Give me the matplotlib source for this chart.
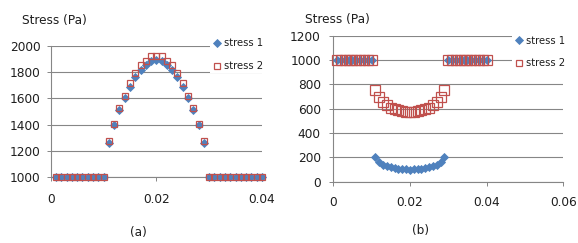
import matplotlib
matplotlib.use("Agg")
import matplotlib.pyplot as plt
from matplotlib.lines import Line2D

plt.rcParams['font.family'] = ['DejaVu Sans']

# ---------------- data ----------------
x_left = [0.001, 0.002, 0.003, 0.004, 0.005, 0.006, 0.007, 0.008, 0.009, 0.010]
x_mid = [0.011, 0.012, 0.013, 0.014, 0.015, 0.016, 0.017, 0.018, 0.019, 0.020,
         0.021, 0.022, 0.023, 0.024, 0.025, 0.026, 0.027, 0.028, 0.029]
x_right = [0.030, 0.031, 0.032, 0.033, 0.034, 0.035, 0.036, 0.037, 0.038, 0.039, 0.040]

flat_left = [1000, 1000, 1000, 1000, 1000, 1000, 1000, 1000, 1000, 1000]
flat_right = [1000, 1000, 1000, 1000, 1000, 1000, 1000, 1000, 1000, 1000, 1000]

# panel (a)
a_stress1_mid = [1262, 1395, 1508, 1605, 1688, 1760, 1815, 1855, 1880, 1890,
                 1880, 1855, 1815, 1760, 1688, 1605, 1508, 1395, 1262]
a_stress2_mid = [1277, 1405, 1528, 1620, 1716, 1792, 1852, 1885, 1922, 1922,
                 1922, 1885, 1852, 1792, 1716, 1620, 1528, 1405, 1277]

# panel (b)
b_stress1_mid = [205, 160, 140, 128, 118, 111, 106, 103, 101, 100,
                 101, 103, 106, 111, 118, 128, 140, 160, 205]
b_stress2_mid = [755, 695, 657, 627, 607, 595, 587, 580, 576, 573,
                 576, 580, 587, 595, 607, 627, 657, 695, 755]

series_names = ["stress 1", "stress 2"]
y_title = "Stress (Pa)"
a_yticks = [1000, 1200, 1400, 1600, 1800, 2000]
a_xticks = [0, 0.02, 0.04]
a_xticklabels = ["0", "0.02", "0.04"]
b_yticks = [0, 200, 400, 600, 800, 1000, 1200]
b_xticks = [0, 0.02, 0.04, 0.06]
b_xticklabels = ["0", "0.02", "0.04", "0.06"]

# ---------------- style ----------------
BLUE = "#4F81BD"
RED = "#C0504D"
GRID = "#868686"
TXT = "#1e1e1e"
W, H = 578, 243

fig = plt.figure(figsize=(W / 100, H / 100), dpi=100)
fig.patch.set_facecolor("white")


def fx(px):
    return px / W


def fy(py):
    return 1 - py / H


def style_axes(ax, ypad, xpad):
    ax.set_facecolor("white")
    for s in ["top", "right"]:
        ax.spines[s].set_visible(False)
    for s in ["left", "bottom"]:
        ax.spines[s].set_color(GRID)
        ax.spines[s].set_linewidth(0.8)
    ax.yaxis.grid(True, color=GRID, linewidth=0.8)
    ax.set_axisbelow(True)
    ax.tick_params(axis="both", direction="out", length=3.2, width=0.7,
                   color=GRID, labelsize=8.7, labelcolor=TXT)
    ax.tick_params(axis="y", pad=ypad)
    ax.tick_params(axis="x", pad=xpad)


def add_legend(ax, left_px, top_px, dsize, ssize):
    handles = [
        Line2D([], [], linestyle="none", marker="D", markersize=dsize,
               markerfacecolor=BLUE, markeredgecolor=BLUE, markeredgewidth=0.6),
        Line2D([], [], linestyle="none", marker="s", markersize=ssize,
               markerfacecolor="none", markeredgecolor=RED, markeredgewidth=0.9),
    ]
    leg = ax.legend(handles, series_names, loc="upper left",
                    bbox_to_anchor=(fx(left_px), fy(top_px)),
                    bbox_transform=fig.transFigure,
                    frameon=True, facecolor="white", edgecolor="none",
                    framealpha=1, fancybox=False, fontsize=7.2,
                    borderpad=0.2, handlelength=1.0, handletextpad=0.2,
                    labelspacing=1.27, borderaxespad=0)
    for t in leg.get_texts():
        t.set_color(TXT)
    leg.set_zorder(10)
    return leg


# ---------------- panel (a) ----------------
axa = fig.add_axes([fx(50.7), fy(177.3), fx(262) - fx(50.7), fy(45.7) - fy(177.3)])
style_axes(axa, ypad=4.3, xpad=8.0)
axa.set_xlim(0, 0.04)
axa.set_ylim(1000, 2000)
axa.set_yticks(a_yticks)
axa.set_xticks(a_xticks)
axa.set_xticklabels(a_xticklabels)

for xs, ys in [(x_left, flat_left), (x_mid, a_stress1_mid), (x_right, flat_right)]:
    axa.plot(xs, ys, linestyle="none", marker="D", markersize=4.5,
             markerfacecolor=BLUE, markeredgecolor=BLUE, markeredgewidth=0.6,
             clip_on=False, zorder=3)
for xs, ys in [(x_left, flat_left), (x_mid, a_stress2_mid), (x_right, flat_right)]:
    axa.plot(xs, ys, linestyle="none", marker="s", markersize=4.4,
             markerfacecolor="none", markeredgecolor=RED, markeredgewidth=0.9,
             clip_on=False, zorder=4)

add_legend(axa, 210, 36.3, 4.3, 4.5)
fig.text(fx(21.7), fy(20.7), y_title, ha="left", va="center", fontsize=8.7, color=TXT)
fig.text(fx(138.3), fy(232.7), "(a)", ha="center", va="center", fontsize=8.7, color=TXT)

# ---------------- panel (b) ----------------
axb = fig.add_axes([fx(333.3), fy(181.7), fx(563.3) - fx(333.3), fy(35.7) - fy(181.7)])
style_axes(axb, ypad=5.8, xpad=7.3)
axb.set_xlim(0, 0.06)
axb.set_ylim(0, 1200)
axb.set_yticks(b_yticks)
axb.set_xticks(b_xticks)
axb.set_xticklabels(b_xticklabels)

for xs, ys in [(x_left, flat_left), (x_mid, b_stress1_mid), (x_right, flat_right)]:
    axb.plot(xs, ys, linestyle="none", marker="D", markersize=4.0,
             markerfacecolor=BLUE, markeredgecolor=BLUE, markeredgewidth=0.6,
             clip_on=False, zorder=3)
for xs, ys in [(x_left, flat_left), (x_mid, b_stress2_mid), (x_right, flat_right)]:
    axb.plot(xs, ys, linestyle="none", marker="s", markersize=6.6,
             markerfacecolor="none", markeredgecolor=RED, markeredgewidth=0.9,
             clip_on=False, zorder=4)

add_legend(axb, 512, 33.5, 4.3, 4.5)
fig.text(fx(305), fy(19), y_title, ha="left", va="center", fontsize=8.7, color=TXT)
fig.text(fx(420.5), fy(230), "(b)", ha="center", va="center", fontsize=8.7, color=TXT)

fig.savefig("out.png", dpi=100, facecolor="white")
